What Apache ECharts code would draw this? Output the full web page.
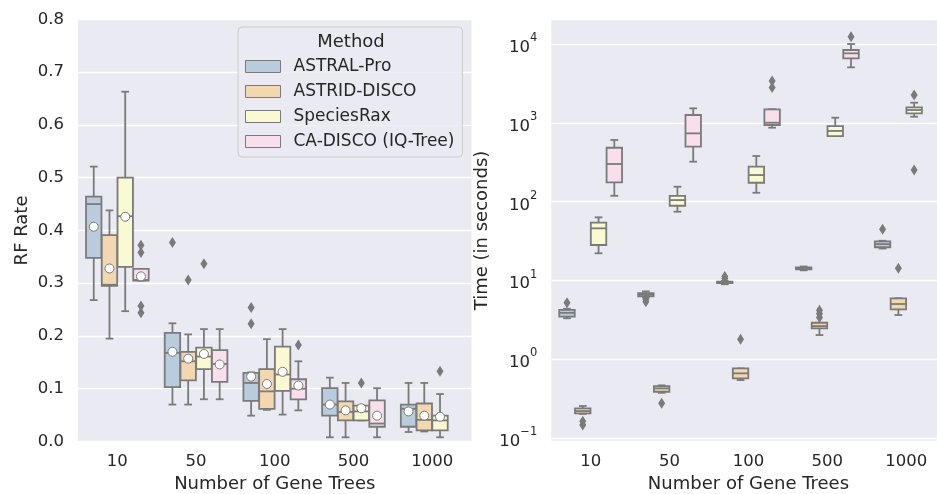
<!DOCTYPE html>
<html><head><meta charset="utf-8">
<script src="https://cdn.jsdelivr.net/npm/echarts@6/dist/echarts.min.js"></script>
<style>html,body{margin:0;padding:0;background:#fff}#c{width:937px;height:494px}</style>
</head><body><div id="c"></div>
<script>
// ---------- data ----------
const categories = ['10', '50', '100', '500', '1000'];
const methods = ['ASTRAL-Pro', 'ASTRID-DISCO', 'SpeciesRax', 'CA-DISCO (IQ-Tree)'];

// RF rate: [low whisker, Q1, median, Q3, high whisker]
const rfAstral  = [[0.268,0.348,0.450,0.464,0.521],[0.070,0.103,0.168,0.206,0.224],[0.049,0.077,0.111,0.130,0.131],[0.008,0.049,0.070,0.101,0.121],[0.018,0.028,0.062,0.070,0.111]];
const rfAstrid  = [[0.195,0.295,0.297,0.391,0.438],[0.070,0.116,0.152,0.170,0.203],[0.060,0.062,0.095,0.137,0.194],[0.008,0.040,0.056,0.076,0.111],[0.019,0.021,0.041,0.072,0.111]];
const rfSpecies = [[0.247,0.331,0.427,0.500,0.663],[0.080,0.137,0.161,0.178,0.213],[0.051,0.096,0.127,0.180,0.213],[0.040,0.040,0.057,0.068,0.068],[0.008,0.021,0.040,0.049,0.090]];
const rfCadisco = [[0.305,0.305,0.306,0.327,0.327],[0.080,0.113,0.147,0.173,0.213],[0.059,0.080,0.100,0.118,0.152],[0.008,0.028,0.034,0.078,0.101]];
const rfAstralMean  = [0.407,0.170,0.123,0.070,0.057];
const rfAstridMean  = [0.328,0.157,0.109,0.059,0.049];
const rfSpeciesMean = [0.426,0.166,0.132,0.063,0.047];
const rfCadiscoMean = [0.313,0.146,0.106,0.049];
// outliers: [category index, value]
const rfAstralOut  = [[1,0.377],[2,0.254],[2,0.223]];
const rfAstridOut  = [[1,0.306]];
const rfSpeciesOut = [[1,0.337],[3,0.111],[4,0.133]];
const rfCadiscoOut = [[0,0.372],[0,0.358],[0,0.257],[0,0.244],[2,0.183]];

// Time (seconds): [low whisker, Q1, median, Q3, high whisker]
const tAstral  = [[3.33,3.5,3.9,4.25,4.4],[6.1,6.3,6.6,6.95,7.3],[9.0,9.3,9.5,9.7,9.9],[13.5,13.9,14.3,14.7,15.1],[25.5,26.5,29,31.5,32]];
const tAstrid  = [[0.204,0.207,0.222,0.24,0.257],[0.378,0.39,0.43,0.46,0.47],[0.548,0.577,0.667,0.77,0.77],[2.04,2.48,2.65,2.92,2.92],[3.66,4.33,5.05,5.96,5.96]];
const tSpecies = [[22.2,28.3,46,54.2,63.4],[74.8,89,105,119,155],[130,174,218,278,380],[681,681,790,912,1163],[1197,1321,1456,1574,1802]];
const tCadisco = [[119,176,301,484,607],[322,499,736,1259,1528],[869,940,1005,1486,1486],[5060,6590,7620,8390,10000]];
const tAstralOut  = [[0,5.25],[1,5.8],[1,5.4],[2,10.6],[2,11.3],[4,44.7]];
const tAstridOut  = [[0,0.165],[0,0.148],[1,0.278],[2,1.8],[3,3.4],[3,3.8],[3,4.2],[4,14.3]];
const tSpeciesOut = [[4,2256],[4,252]];
const tCadiscoOut = [[2,3400],[2,2800],[3,12380]];
const timeTicks = [-1, 0, 1, 2, 3, 4];

// ---------- style ----------
const FONT = 'DejaVu Sans';
const TXT = '#262626';
const GRAY = '#7a7a7a';
const BG = '#EAEAF2';
const colors = ['#b9ccdd', '#f3d7b1', '#f9f9d2', '#f9deec'];
const dodge = [-0.3, -0.1, 0.1, 0.3];
const BOXW = 0.196;
const LW = 1.8;

const rfBoxes = [rfAstral, rfAstrid, rfSpecies, rfCadisco];
const rfMeans = [rfAstralMean, rfAstridMean, rfSpeciesMean, rfCadiscoMean];
const rfOuts = [rfAstralOut, rfAstridOut, rfSpeciesOut, rfCadiscoOut];
const tBoxes = [tAstral, tAstrid, tSpecies, tCadisco];
const tOuts = [tAstralOut, tAstridOut, tSpeciesOut, tCadiscoOut];

function makeRender(col) {
  return function (params, api) {
    const x = api.value(0);
    const lo = api.coord([x, api.value(1)]);
    const q1 = api.coord([x, api.value(2)]);
    const md = api.coord([x, api.value(3)]);
    const q3 = api.coord([x, api.value(4)]);
    const hi = api.coord([x, api.value(5)]);
    const w = api.size([BOXW, 0], [x, 1])[0];
    const cx = lo[0];
    const ls = { stroke: GRAY, lineWidth: LW };
    return { type: 'group', children: [
      { type: 'line', shape: { x1: cx, y1: q3[1], x2: cx, y2: hi[1] }, style: ls },
      { type: 'line', shape: { x1: cx, y1: q1[1], x2: cx, y2: lo[1] }, style: ls },
      { type: 'line', shape: { x1: cx - w / 4, y1: hi[1], x2: cx + w / 4, y2: hi[1] }, style: ls },
      { type: 'line', shape: { x1: cx - w / 4, y1: lo[1], x2: cx + w / 4, y2: lo[1] }, style: ls },
      { type: 'rect', shape: { x: cx - w / 2, y: q3[1], width: w, height: q1[1] - q3[1] },
        style: { fill: col, stroke: GRAY, lineWidth: LW } },
      { type: 'line', shape: { x1: cx - w / 2, y1: md[1], x2: cx + w / 2, y2: md[1] }, style: ls }
    ]};
  };
}

const series = [];
function addPanel(boxes, outs, means, xVal, yIdx) {
  boxes.forEach((d, k) => {
    series.push({
      type: 'custom', name: methods[k], xAxisIndex: xVal, yAxisIndex: yIdx, z: 2, silent: true,
      data: d.map((b, i) => [i + dodge[k]].concat(b)),
      encode: { x: 0, y: [1, 2, 3, 4, 5] },
      itemStyle: { color: colors[k] },
      renderItem: makeRender(colors[k])
    });
  });
  outs.forEach((d, k) => {
    series.push({
      type: 'scatter', xAxisIndex: xVal, yAxisIndex: yIdx, z: 3, silent: true,
      data: d.map(p => [p[0] + dodge[k], p[1]]),
      symbol: 'diamond', symbolSize: [7, 11],
      itemStyle: { color: GRAY, opacity: 1 }
    });
  });
  if (means) means.forEach((d, k) => {
    series.push({
      type: 'scatter', xAxisIndex: xVal, yAxisIndex: yIdx, z: 4, silent: true,
      data: d.map((v, i) => [i + dodge[k], v]),
      symbol: 'circle', symbolSize: 9,
      itemStyle: { color: '#ffffff', borderColor: GRAY, borderWidth: 1, opacity: 1 }
    });
  });
}
addPanel(rfBoxes, rfOuts, rfMeans, 2, 0);
addPanel(tBoxes, tOuts, null, 3, 1);

const catAxis = (g) => ({
  type: 'category', gridIndex: g, data: categories, boundaryGap: true,
  axisLine: { show: false }, axisTick: { show: false },
  axisLabel: { interval: 0, margin: 12, color: TXT, fontSize: 16.5, fontFamily: FONT },
  splitLine: { show: false },
  name: 'Number of Gene Trees', nameLocation: 'middle', nameGap: 31,
  nameTextStyle: { color: TXT, fontSize: 18, fontFamily: FONT }
});
const valAxis = (g) => ({ type: 'value', gridIndex: g, min: -0.5, max: 4.5, show: false, position: 'top' });

const option = {
  animation: false,
  backgroundColor: '#ffffff',
  grid: [
    { left: 78, right: 465.5, top: 19.4, bottom: 52.5, show: true, backgroundColor: BG, borderWidth: 0,
      containLabel: false, outerBoundsMode: 'none' },
    { left: 551.2, right: -8.7, top: 19.4, bottom: 52.5, show: true, backgroundColor: BG, borderWidth: 0,
      containLabel: false, outerBoundsMode: 'none' }
  ],
  xAxis: [catAxis(0), catAxis(1), valAxis(0), valAxis(1)],
  yAxis: [
    {
      type: 'value', gridIndex: 0, min: 0, max: 0.8, interval: 0.1,
      axisLine: { show: false }, axisTick: { show: false },
      axisLabel: { margin: 14, color: TXT, fontSize: 16.5, fontFamily: FONT, formatter: v => v.toFixed(1) },
      splitLine: { lineStyle: { color: '#ffffff', width: 1.3 } },
      name: 'RF Rate', nameLocation: 'middle', nameGap: 47,
      nameTextStyle: { color: TXT, fontSize: 18, fontFamily: FONT }
    },
    {
      type: 'log', logBase: 10, gridIndex: 1, min: 0.0912, max: 20512,
      axisLine: { show: false }, axisTick: { show: false },
      axisLabel: {
        margin: 14, color: TXT, fontFamily: FONT,
        formatter: v => {
          const l = Math.log10(v), e = Math.round(l);
          if (Math.abs(l - e) > 1e-6 || timeTicks.indexOf(e) < 0) return '';
          return '{b|10}{s|' + (e < 0 ? '\u2212' + (-e) : String(e)) + '}';
        },
        rich: {
          b: { fontSize: 16.5, color: TXT, fontFamily: FONT, verticalAlign: 'bottom', lineHeight: 24 },
          s: { fontSize: 11.5, color: TXT, fontFamily: FONT, verticalAlign: 'top', lineHeight: 24 }
        }
      },
      splitLine: { lineStyle: { color: '#ffffff', width: 1.3 } },
      name: 'Time (in seconds)', nameLocation: 'middle', nameGap: 60,
      nameTextStyle: { color: TXT, fontSize: 18, fontFamily: FONT }
    }
  ],
  legend: {
    data: methods.map((m, i) => ({ name: m, itemStyle: { color: colors[i], borderColor: GRAY, borderWidth: 1 } })),
    orient: 'vertical', left: 238, top: 27,
    padding: [30, 8, 6, 7], itemWidth: 35, itemHeight: 12, itemGap: 6,
    icon: 'rect', selectedMode: false,
    backgroundColor: 'rgba(234,234,242,0.8)', borderColor: '#cccccc', borderWidth: 1, borderRadius: 4,
    textStyle: { color: TXT, fontSize: 17, fontFamily: FONT, lineHeight: 19, padding: [0, 0, 0, 8] },
    z: 10
  },
  graphic: [{
    type: 'text', x: 351, y: 42, z: 100,
    style: { text: 'Method', textAlign: 'center', textVerticalAlign: 'middle', fontSize: 18, fill: TXT, fontFamily: FONT }
  }],
  series: series
};
const chart = echarts.init(document.getElementById('c'), null, { renderer: 'canvas' });
chart.setOption(option);
</script>
</body></html>
